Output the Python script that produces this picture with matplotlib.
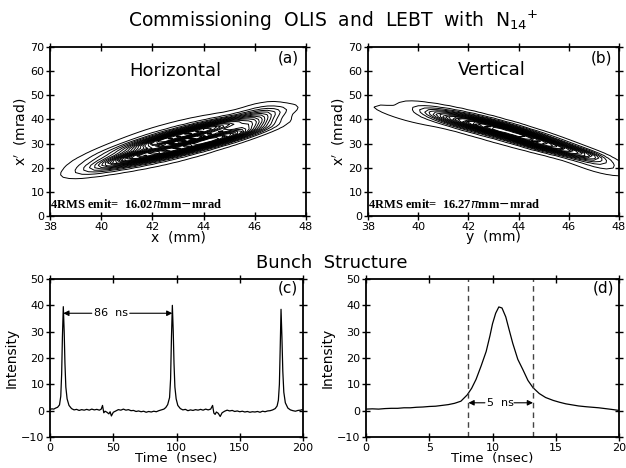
import numpy as np
import matplotlib
matplotlib.use("Agg")
import matplotlib.pyplot as plt

# ---------------- data ----------------
# Horizontal phase-space density: blob components (centre x, centre x', sigma along x, sigma across, amplitude)
h_slope = 2.6
h_cx = [42.9, 40.0, 46.2, 43.0, 43.6, 44.8, 41.4, 43.3, 45.8, 42.2]
h_cy = [30.8, 22.0, 41.5, 28.0, 34.5, 33.0, 25.0, 31.3, 38.0, 30.5]
h_su = [2.0, 0.9, 0.6, 1.5, 1.5, 0.9, 0.8, 0.5, 0.5, 0.5]
h_sv = [4.8, 2.4, 3.0, 1.6, 1.6, 1.4, 1.4, 0.9, 1.2, 1.0]
h_amp = [0.10, 0.05, 0.07, 0.55, 0.55, 0.35, 0.30, -0.30, 0.15, 0.15]

# Vertical phase-space density
v_slope = -2.9
v_cx = [43.2, 39.3, 47.2, 42.6, 43.8, 45.0, 46.0, 41.3, 46.8, 44.5]
v_cy = [35.0, 42.0, 21.5, 37.3, 34.5, 30.0, 27.0, 40.0, 25.5, 30.0]
v_su = [2.6, 1.0, 0.8, 1.0, 1.1, 1.0, 0.7, 0.8, 0.4, 0.5]
v_sv = [3.8, 1.7, 2.4, 1.6, 1.6, 1.6, 1.3, 1.5, 1.0, 1.0]
v_amp = [0.08, 0.05, 0.08, 0.6, 0.6, 0.45, 0.25, 0.25, 0.12, 0.15]

# Bunch structure, long time window (c)
c_time = [0, 1.5, 3, 4.5, 6, 7.5, 8.5, 9.2, 9.8, 10.5, 11.2, 11.8, 12.5, 13.5, 15, 17,
          19, 21, 23, 25, 27, 29, 31, 33, 35, 37, 39, 40.5, 41.5, 42.5, 43.5, 45, 46.5,
          47.5, 48.5, 50, 52, 54, 56, 58, 60, 62, 64, 66, 68, 70, 72, 74, 76, 78, 80,
          82, 84, 86, 88, 90, 91.5, 93, 94.5, 95.3, 96, 96.7, 97.4, 98, 98.7, 99.7,
          101, 103, 105, 107, 109, 111, 113, 115, 117, 119, 121, 123, 125, 127, 128.5,
          129.5, 130.5, 131.5, 133, 134.5, 136, 138, 140, 142, 144, 146, 148, 150, 152,
          154, 156, 158, 160, 162, 164, 166, 168, 170, 172, 174, 176, 178, 179.5, 180.5,
          181.3, 182, 182.6, 183.3, 184, 184.8, 186, 188, 190, 192, 194, 196, 198, 200]
c_int = [0.5, 0.7, 0.6, 1.0, 1.3, 2.2, 5.5, 14, 28, 39.5, 30, 18, 9, 4.5, 2.0, 0.8,
         0.3, 0.5, 0.1, 0.4, 0.2, 0.5, 0.2, 0.6, 0.3, 0.5, 0.2, 0.6, 2.0, -0.8, -0.2, -0.6, -1.2,
         -0.4, -2.0, -0.6, -0.1, 0.4, 0.2, 0.6, 0.2, 0.4, 0.0, 0.1, -0.3, -0.1, -0.4, -0.2, -0.6,
         -0.3, -0.5, -0.2, -0.4, 0.0, 0.3, 0.6, 1.2, 2.3, 5, 12, 28, 40, 30, 18, 9, 4.5,
         2.0, 0.8, 0.3, 0.5, 0.0, 0.3, 0.1, 0.4, 0.2, 0.5, 0.2, 0.6, 0.3, 0.6, 2.0,
         -0.9, -1.4, -0.5, -1.0, -2.2, -0.8, -0.2, 0.2, -0.1, 0.1, -0.3, -0.1, -0.4, -0.2,
         -0.5, -0.3, -0.6, -0.4, -0.5, -0.3, -0.6, -0.2, -0.4, -0.1, 0.0, 0.3, 0.8, 1.8, 4,
         10, 25, 38.5, 28, 15, 7, 3, 1.0, 0.3, 0.0, -0.2, 0.1, 0.2, 0.5]

# Bunch structure, single bunch (d)
d_time = [0, 0.5, 1, 1.5, 2, 2.5, 3, 3.5, 4, 4.5, 5, 5.5, 6, 6.5, 7, 7.5, 8, 8.35, 8.7,
          9.1, 9.5, 9.8, 10.0, 10.25, 10.5, 10.75, 11.05, 11.3, 11.6, 12.0, 12.4, 12.8,
          13.2, 13.7, 14.2, 14.8, 15.3, 15.8, 16.3, 16.8, 17.4, 17.9, 18.4, 18.9, 19.4, 20]
d_int = [0.6, 0.7, 0.6, 0.8, 0.9, 0.9, 1.1, 1.1, 1.3, 1.4, 1.6, 1.7, 2.0, 2.3, 2.8, 3.6,
         6.0, 8.5, 11.9, 17, 22.5, 28.5, 33, 37, 39.4, 39.0, 35.6, 31, 25.6, 19.5, 15.6, 11.5,
         8.75, 6.5, 5.0, 3.9, 3.2, 2.6, 2.2, 1.8, 1.5, 1.3, 1.1, 0.8, 0.5, 0.1]

c_period = (10.5, 96.7)
d_fwhm = (8.1, 13.2)

# ---------------- figure ----------------
plt.rcParams['font.family'] = ['DejaVu Sans']
fig = plt.figure(figsize=(6.26, 4.68), dpi=100)

def style(ax, xt, yt):
    ax.set_xticks(xt)
    ax.set_yticks(yt)
    ax.tick_params(direction='inout', length=6, width=1.0, labelsize=8,
                   top=True, right=True, pad=1)
    for s in ax.spines.values():
        s.set_linewidth(1.3)

def field(xg, yg, cx, cy, su, sv, amp, k):
    z = np.zeros_like(xg)
    for a, b, s1, s2, A in zip(cx, cy, su, sv, amp):
        u = xg - a
        v = (yg - b) - k * u
        z += A * np.exp(-0.5 * (u / s1) ** 2 - 0.5 * (v / s2) ** 2)
    return z

xg, yg = np.meshgrid(np.linspace(38, 48, 41), np.linspace(0, 70, 71))
levfrac = np.linspace(0.03, 0.92, 22)

def emittance(ax, z, xl, label, tag, em, lx, ly):
    ax.contour(xg, yg, z, levels=levfrac * z.max(), colors='black', linewidths=0.7)
    ax.set_xlim(38, 48); ax.set_ylim(0, 70)
    style(ax, [38, 40, 42, 44, 46, 48], range(0, 71, 10))
    ax.set_xlabel(xl, fontsize=10, labelpad=-1)
    ax.set_ylabel("x$'$  (mrad)", fontsize=10, labelpad=1)
    ax.text(lx, ly, label, transform=ax.transAxes, ha='center', va='center', fontsize=13)
    ax.text(0.93, 0.935, tag, transform=ax.transAxes, ha='center', va='center', fontsize=11)
    ax.text(0.0, 0.03, r'4RMS emit=  %s$\pi$mm$-$mrad' % em, transform=ax.transAxes,
            ha='left', va='bottom', fontsize=9, fontweight='bold', family='Liberation Serif')

axa = fig.add_axes([0.0799, 0.5385, 0.4089, 0.3611])
emittance(axa, field(xg, yg, h_cx, h_cy, h_su, h_sv, h_amp, h_slope),
          'x  (mm)', 'Horizontal', '(a)', '16.02', 0.49, 0.86)
axb = fig.add_axes([0.5879, 0.5385, 0.4009, 0.3611])
emittance(axb, field(xg, yg, v_cx, v_cy, v_su, v_sv, v_amp, v_slope),
          'y  (mm)', 'Vertical', '(b)', '16.27', 0.494, 0.864)

def arrow(ax, x0, x1, y):
    ax.annotate('', xy=(x1, y), xytext=(x0, y),
                arrowprops=dict(arrowstyle='-|>', color='black', lw=0.8,
                                mutation_scale=8, shrinkA=0, shrinkB=0))

# (c)
axc = fig.add_axes([0.0799, 0.0662, 0.4042, 0.3376])
axc.plot(c_time, c_int, color='black', lw=0.9)
axc.set_xlim(0, 200); axc.set_ylim(-10, 50)
style(axc, [0, 50, 100, 150, 200], range(-10, 51, 10))
axc.set_xlabel('Time  (nsec)', fontsize=9.5, labelpad=-0.5)
axc.set_ylabel('Intensity', fontsize=10, labelpad=2)
axc.text(0.94, 0.944, '(c)', transform=axc.transAxes, ha='center', va='center', fontsize=11)
arrow(axc, 33, c_period[0], 37)
arrow(axc, 63, c_period[1], 37)
axc.text(48, 37, '%d  ns' % round(c_period[1] - c_period[0]), ha='center', va='center', fontsize=8)

# (d)
axd = fig.add_axes([0.5847, 0.0662, 0.4041, 0.3376])
axd.plot(d_time, d_int, color='black', lw=0.9)
for t in d_fwhm:
    axd.axvline(t, color='#444444', lw=1.0, ls=(0, (4, 3)))
axd.set_xlim(0, 20); axd.set_ylim(-10, 50)
style(axd, [0, 5, 10, 15, 20], range(-10, 51, 10))
axd.set_xlabel('Time  (nsec)', fontsize=9.5, labelpad=-0.5)
axd.set_ylabel('Intensity', fontsize=10, labelpad=2)
axd.text(0.937, 0.944, '(d)', transform=axd.transAxes, ha='center', va='center', fontsize=11)
arrow(axd, 9.4, d_fwhm[0], 3)
arrow(axd, 11.7, d_fwhm[1], 3)
axd.text(10.6, 3, '%d  ns' % round(d_fwhm[1] - d_fwhm[0]), ha='center', va='center', fontsize=8)

fig.text(0.532, 0.955, r'Commissioning  OLIS  and  LEBT  with  N$_{14}$$^{+}$', ha='center',
         va='center', fontsize=13.5)
fig.text(0.53, 0.437, 'Bunch  Structure', ha='center', va='center', fontsize=13)

fig.savefig('out.png', dpi=100)
